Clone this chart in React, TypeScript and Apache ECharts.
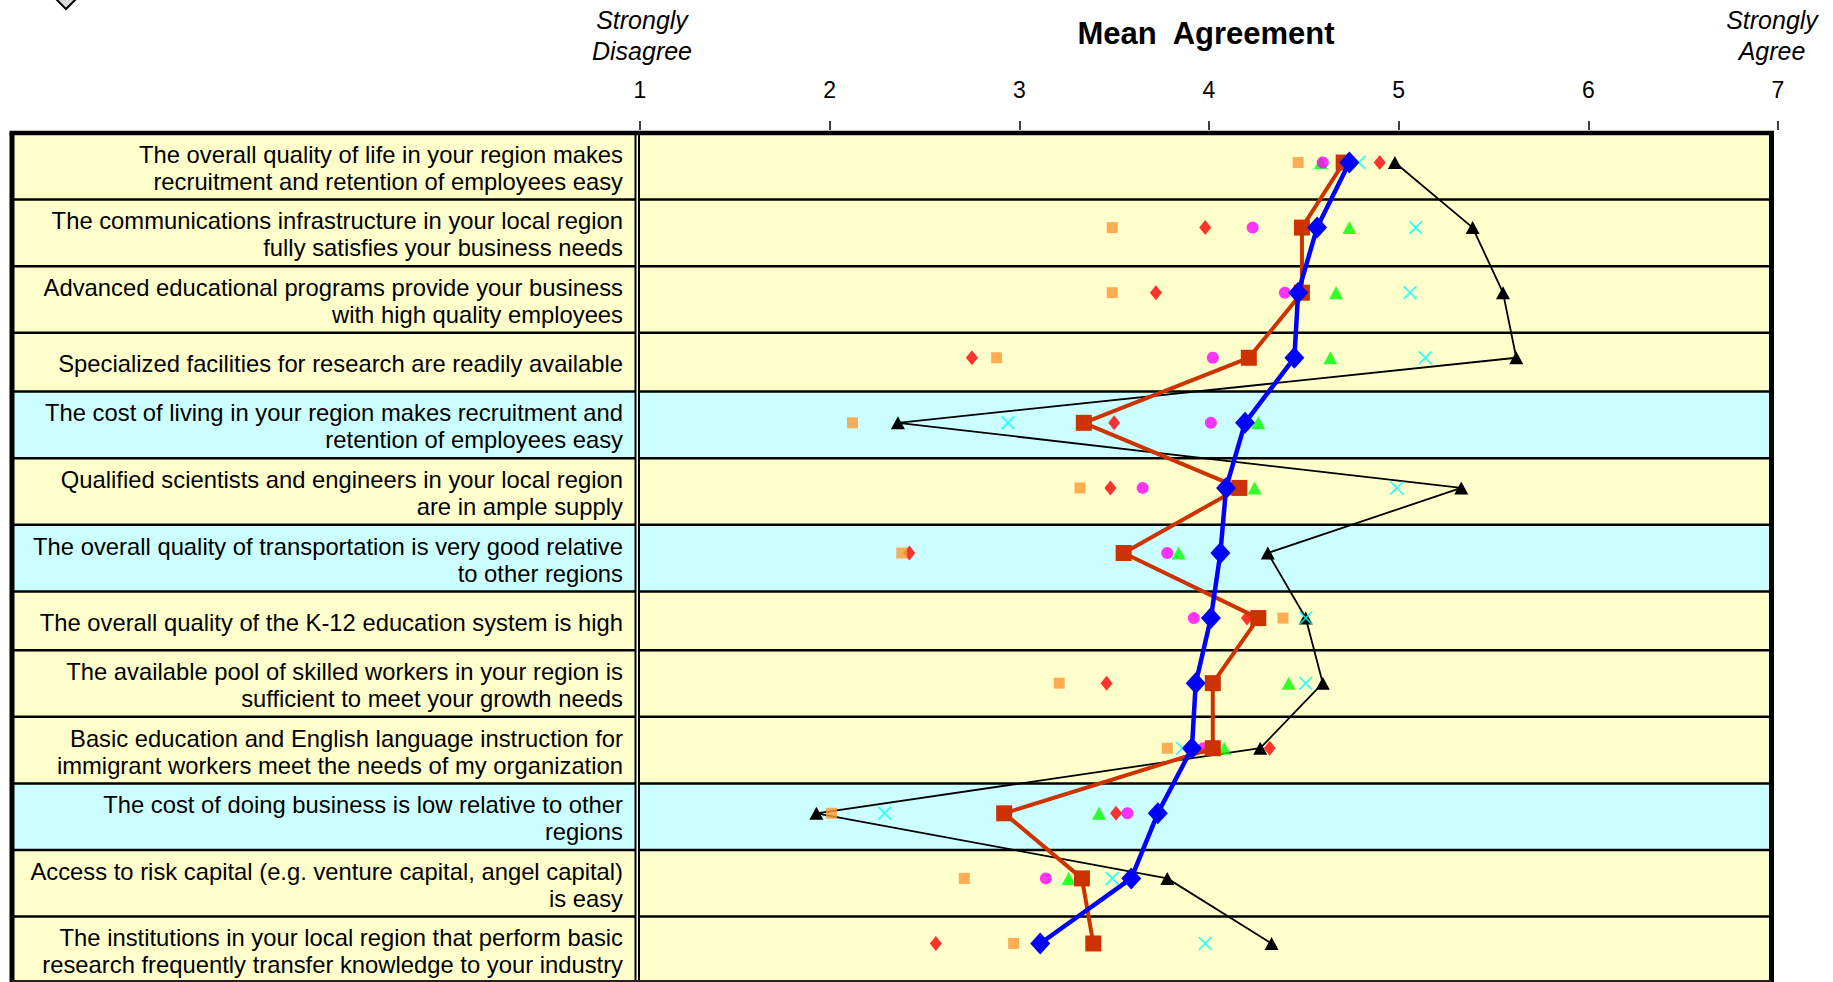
import React, { useEffect, useRef } from "react";
import * as echarts from "echarts";

// ---------- data ----------
const categories: string[] = [
  "The overall quality of life in your region makes\nrecruitment and retention of employees easy",
  "The communications infrastructure in your local region\nfully satisfies your business needs",
  "Advanced educational programs provide your business\nwith high quality employees",
  "Specialized facilities for research are readily available",
  "The cost of living in your region makes recruitment and\nretention of employees easy",
  "Qualified scientists and engineers in your local region\nare in ample supply",
  "The overall quality of transportation is very good relative\nto other regions",
  "The overall quality of the K-12 education system is high",
  "The available pool of skilled workers in your region is\nsufficient to meet your growth needs",
  "Basic education and English language instruction for\nimmigrant workers meet the needs of my organization",
  "The cost of doing business is low relative to other\nregions",
  "Access to risk capital (e.g. venture capital, angel capital)\nis easy",
  "The institutions in your local region that perform basic\nresearch frequently transfer knowledge to your industry",
];

// rows shaded light cyan in the table (indices into categories)
const highlightedRows: number[] = [4, 6, 10];

const xTickValues: number[] = [1, 2, 3, 4, 5, 6, 7];

const blueDiamond: (number | null)[] = [4.74, 4.57, 4.47, 4.45, 4.19, 4.09, 4.06, 4.01, 3.93, 3.91, 3.73, 3.59, 3.11];
const brownSquare: (number | null)[] = [4.71, 4.49, 4.49, 4.21, 3.34, 4.16, 3.55, 4.26, 4.02, 4.02, 2.92, 3.33, 3.39];
const blackTriangle: (number | null)[] = [4.98, 5.39, 5.55, 5.62, 2.36, 5.33, 4.31, 4.51, 4.6, 4.27, 1.93, 3.78, 4.33];
const orangeSquare: (number | null)[] = [4.47, 3.49, 3.49, 2.88, 2.12, 3.32, 2.38, 4.39, 3.21, 3.78, 2.01, 2.71, 2.97];
const redDiamond: (number | null)[] = [4.9, 3.98, 3.72, 2.75, 3.5, 3.48, 2.42, 4.2, 3.46, 4.32, 3.51, null, 2.56];
const magentaCircle: (number | null)[] = [4.6, 4.23, 4.4, 4.02, 4.01, 3.65, 3.78, 3.92, null, 3.97, 3.57, 3.14, null];
const greenTriangle: (number | null)[] = [4.59, 4.74, 4.67, 4.64, 4.26, 4.24, 3.84, null, 4.42, 4.08, 3.42, 3.26, null];
const cyanCross: (number | null)[] = [4.79, 5.09, 5.06, 5.14, 2.94, 4.99, null, 4.51, 4.51, 3.86, 2.29, 3.49, 3.98];

const FONT = '"Liberation Sans", Arial, Helvetica, sans-serif';

const toPairs = (vals: (number | null)[]) =>
  vals.map((v, i) => (v == null ? null : [v, i])).filter((p) => p !== null) as number[][];

const X_PATH =
  "path://M0,1.8L1.8,0L10,8.2L18.2,0L20,1.8L11.8,10L20,18.2L18.2,20L10,11.8L1.8,20L0,18.2L8.2,10Z";

export default function App() {
  const ref = useRef<HTMLDivElement>(null);

  useEffect(() => {
    const el = ref.current;
    if (!el) return;
    const chart = echarts.init(el, null, { renderer: "svg" });

    // layout
    const gridLeft = 640;
    const gridRight = 1778;
    const gridTop = 130;
    const gridHeight = 846;
    const tableLeft = 12;
    const labelRight = 635.5;
    const plotLeft = 639;
    const plotRight = 1771.5;
    const tableTop = 133;
    const twoLineH = 66.6;
    const oneLineH = 58.8;

    const graphics: any[] = [];
    let yy = tableTop;
    const rows = categories.map((c, i) => {
      const h = c.includes("\n") ? twoLineH : oneLineH;
      const r = { y0: yy, y1: yy + h, i, text: c };
      yy += h;
      return r;
    });
    const tableBottom = Math.min(yy, 981);

    rows.forEach((r) => {
      const fill = highlightedRows.includes(r.i) ? "#CCFFFF" : "#FFFFCC";
      graphics.push({
        type: "rect",
        shape: { x: tableLeft, y: r.y0, width: labelRight - tableLeft, height: r.y1 - r.y0 },
        style: { fill },
        silent: true,
      });
      graphics.push({
        type: "rect",
        shape: { x: plotLeft, y: r.y0, width: plotRight - plotLeft, height: r.y1 - r.y0 },
        style: { fill },
        silent: true,
      });
    });
    rows.slice(1).forEach((r) => {
      graphics.push({
        type: "line",
        shape: { x1: tableLeft, y1: r.y0, x2: labelRight, y2: r.y0 },
        style: { stroke: "#000", lineWidth: 2.5 },
        silent: true,
      });
      graphics.push({
        type: "line",
        shape: { x1: plotLeft, y1: r.y0, x2: plotRight, y2: r.y0 },
        style: { stroke: "#000", lineWidth: 2.5 },
        silent: true,
      });
    });
    // vertical double line between label column and plot
    graphics.push({
      type: "line",
      shape: { x1: labelRight, y1: tableTop, x2: labelRight, y2: tableBottom },
      style: { stroke: "#000", lineWidth: 2 },
      silent: true,
    });
    graphics.push({
      type: "line",
      shape: { x1: plotLeft, y1: tableTop, x2: plotLeft, y2: tableBottom },
      style: { stroke: "#000", lineWidth: 2 },
      silent: true,
    });
    // outer borders
    graphics.push({
      type: "line",
      shape: { x1: tableLeft - 2.5, y1: tableTop, x2: plotRight + 2.5, y2: tableTop },
      style: { stroke: "#000", lineWidth: 4.5 },
      silent: true,
    });
    graphics.push({
      type: "line",
      shape: { x1: tableLeft, y1: tableTop, x2: tableLeft, y2: tableBottom + 2 },
      style: { stroke: "#000", lineWidth: 5 },
      silent: true,
    });
    graphics.push({
      type: "line",
      shape: { x1: plotRight, y1: tableTop, x2: plotRight, y2: tableBottom + 2 },
      style: { stroke: "#000", lineWidth: 5 },
      silent: true,
    });
    graphics.push({
      type: "line",
      shape: { x1: tableLeft, y1: tableBottom, x2: plotRight, y2: tableBottom },
      style: { stroke: "#222", lineWidth: 2 },
      silent: true,
    });
    // row label texts
    rows.forEach((r) => {
      graphics.push({
        type: "text",
        x: 623,
        y: (r.y0 + r.y1) / 2 + 1.5,
        style: {
          text: r.text,
          align: "right",
          verticalAlign: "middle",
          textAlign: "right",
          textVerticalAlign: "middle",
          fontSize: 23.8,
          fontFamily: FONT,
          lineHeight: 27,
          fill: "#000",
        },
        silent: true,
      });
    });
    // header texts
    graphics.push({
      type: "text",
      x: 642,
      y: 35,
      style: {
        text: "Strongly\nDisagree",
        align: "center",
        verticalAlign: "middle",
        textAlign: "center",
        textVerticalAlign: "middle",
        fontSize: 25,
        fontStyle: "italic",
        fontFamily: FONT,
        lineHeight: 31,
        fill: "#000",
      },
      silent: true,
    });
    graphics.push({
      type: "text",
      x: 1772,
      y: 35,
      style: {
        text: "Strongly\nAgree",
        align: "center",
        verticalAlign: "middle",
        textAlign: "center",
        textVerticalAlign: "middle",
        fontSize: 25,
        fontStyle: "italic",
        fontFamily: FONT,
        lineHeight: 31,
        fill: "#000",
      },
      silent: true,
    });
    graphics.push({
      type: "text",
      x: 1206,
      y: 33,
      style: {
        text: "Mean  Agreement",
        align: "center",
        verticalAlign: "middle",
        textAlign: "center",
        textVerticalAlign: "middle",
        fontSize: 31,
        fontWeight: "bold",
        fontFamily: FONT,
        fill: "#000",
      },
      silent: true,
    });
    // cut-off legend marker at top-left
    graphics.push({
      type: "polygon",
      shape: { points: [[55, -2], [66, 9], [77, -2], [66, -13]] },
      style: { fill: "#D9D9D9", stroke: "#000", lineWidth: 2 },
      silent: true,
    });

    const option: any = {
      animation: false,
      backgroundColor: "#FFFFFF",
      grid: { left: gridLeft, top: gridTop, width: gridRight - gridLeft, height: gridHeight, containLabel: false },
      xAxis: {
        type: "value",
        min: xTickValues[0],
        max: xTickValues[xTickValues.length - 1],
        interval: 1,
        position: "top",
        axisLine: { show: false },
        axisTick: { show: true, length: 9, lineStyle: { color: "#000", width: 1.5 } },
        axisLabel: { fontSize: 23, color: "#000", margin: 29, fontFamily: FONT, showMinLabel: true, showMaxLabel: true },
        splitLine: { show: false },
      },
      yAxis: {
        type: "category",
        data: categories,
        inverse: true,
        boundaryGap: true,
        show: false,
      },
      graphic: { elements: graphics },
      series: [
        {
          type: "line",
          data: toPairs(blackTriangle),
          symbol: "triangle",
          symbolSize: [14, 13],
          itemStyle: { color: "#000000" },
          lineStyle: { color: "#000000", width: 1.8 },
          z: 3,
        },
        {
          type: "scatter",
          data: toPairs(redDiamond),
          symbol: "diamond",
          symbolSize: [12, 15],
          itemStyle: { color: "#FF0000" },
          z: 4,
        },
        {
          type: "scatter",
          data: toPairs(orangeSquare),
          symbol: "rect",
          symbolSize: 11,
          itemStyle: { color: "#FF9933" },
          z: 5,
        },
        {
          type: "scatter",
          data: toPairs(greenTriangle),
          symbol: "triangle",
          symbolSize: [14, 13],
          itemStyle: { color: "#00FF00" },
          z: 6,
        },
        {
          type: "scatter",
          data: toPairs(magentaCircle),
          symbol: "circle",
          symbolSize: 12,
          itemStyle: { color: "#FF00FF" },
          z: 7,
        },
        {
          type: "scatter",
          data: toPairs(cyanCross),
          symbol: X_PATH,
          symbolSize: 14,
          itemStyle: { color: "#00FFFF" },
          z: 8,
        },
        {
          type: "line",
          data: toPairs(brownSquare),
          symbol: "rect",
          symbolSize: 16,
          itemStyle: { color: "#CC3300" },
          lineStyle: { color: "#CC3300", width: 4 },
          z: 9,
        },
        {
          type: "line",
          data: toPairs(blueDiamond),
          symbol: "diamond",
          symbolSize: [20, 22],
          itemStyle: { color: "#0000FF" },
          lineStyle: { color: "#0000FF", width: 4.5 },
          z: 10,
        },
      ],
    };

    chart.setOption(option);
    return () => {
      chart.dispose();
    };
  }, []);

  return (
    <div
      ref={ref}
      style={{ position: "fixed", left: 0, top: 0, width: 1833, height: 982, background: "#fff" }}
    />
  );
}
